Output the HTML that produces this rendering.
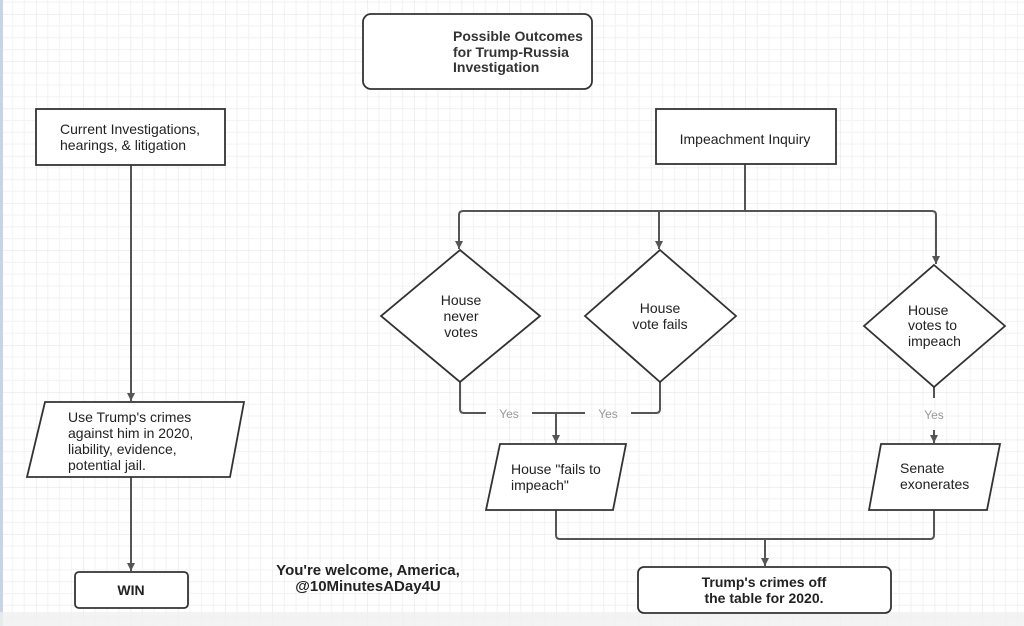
<!DOCTYPE html>
<html><head><meta charset="utf-8"><style>
html,body{margin:0;padding:0;background:#fff}
svg{display:block}
text{font-family:"Liberation Sans",Arial,sans-serif;fill:#222;font-size:14px}
.b{font-weight:bold}
.t{font-weight:bold;font-size:14px;fill:#333}
.y{fill:#999;font-size:12px}
</style></head><body>
<svg width="1024" height="626" viewBox="0 0 1024 626" xmlns="http://www.w3.org/2000/svg">
<defs>
<pattern id="g" x="36" y="14" width="47.3" height="47.3" patternUnits="userSpaceOnUse">
<path d="M11.8 0V47.3M23.6 0V47.3M35.5 0V47.3M0 11.8H47.3M0 23.6H47.3M0 35.5H47.3" stroke="#f2f2f2" stroke-width="1" fill="none"/>
<path d="M0 0V47.3M0 0H47.3" stroke="#e2e2e2" stroke-width="1" fill="none"/>
</pattern>
<marker id="a" markerWidth="8" markerHeight="8" refX="8" refY="4" orient="auto" markerUnits="userSpaceOnUse"><path d="M0,0 L8,4 L0,8 Z" fill="#555"/></marker>
</defs>
<rect width="1024" height="626" fill="url(#g)"/>
<rect x="0" y="0" width="3" height="626" fill="#c9d3e6"/>
<rect x="0" y="612" width="1024" height="14" fill="#f0f0f0" opacity="0.8"/>
<g stroke="#555" stroke-width="2" fill="none">
<line x1="131" y1="165" x2="131" y2="401" marker-end="url(#a)"/>
<line x1="131" y1="477" x2="131" y2="571" marker-end="url(#a)"/>
<path d="M745 164V211"/>
<path d="M459 249V215Q459 211 463 211H932Q936 211 936 215V264" />
<line x1="459" y1="240" x2="459" y2="249" marker-end="url(#a)"/>
<line x1="659" y1="211" x2="659" y2="249" marker-end="url(#a)"/>
<line x1="936" y1="255" x2="936" y2="264" marker-end="url(#a)"/>
<path d="M460 382V409Q460 413 464 413H486M532 413H585M631 413H656Q660 413 660 409V382"/>
<line x1="556" y1="413" x2="556" y2="443" marker-end="url(#a)"/>
<path d="M934 387V398M934 430V443"/>
<line x1="934" y1="435" x2="934" y2="443" marker-end="url(#a)"/>
<path d="M556 510V535Q556 539 560 539H930Q934 539 934 535V510"/>
<line x1="765" y1="539" x2="765" y2="566" marker-end="url(#a)"/>
</g>
<g stroke="#333" stroke-width="1.8" fill="#fff">
<rect x="363" y="14" width="229" height="75" rx="8"/>
<rect x="36" y="109" width="189" height="56"/>
<rect x="656" y="109" width="180" height="55"/>
<polygon points="45,402 244,402 230,477 27,477"/>
<rect x="75" y="572" width="113" height="36" rx="4"/>
<polygon points="460,250 540,316 460,382 381,316"/>
<polygon points="660,250 736,316 660,382 585,316"/>
<polygon points="934,265 1005,326 934,387 864,326"/>
<polygon points="500,444 626,444 613,510 486,510"/>
<polygon points="881,444 1000,444 987,510 869,510"/>
<rect x="638" y="567" width="253" height="46" rx="6"/>
</g>
<text class="t" x="453" y="41">Possible Outcomes</text>
<text class="t" x="453" y="57">for Trump-Russia</text>
<text class="t" x="453" y="72">Investigation</text>
<text x="60" y="134">Current Investigations,</text>
<text x="60" y="150">hearings, &amp; litigation</text>
<text x="745" y="144" text-anchor="middle">Impeachment Inquiry</text>
<text x="68" y="422">Use Trump's crimes</text>
<text x="68" y="438">against him in 2020,</text>
<text x="68" y="454">liability, evidence,</text>
<text x="68" y="470">potential jail.</text>
<text class="b" x="131" y="595" text-anchor="middle">WIN</text>
<text x="461" y="305" text-anchor="middle">House</text>
<text x="461" y="321" text-anchor="middle">never</text>
<text x="461" y="337" text-anchor="middle">votes</text>
<text x="660" y="313" text-anchor="middle">House</text>
<text x="660" y="329" text-anchor="middle">vote fails</text>
<text x="908" y="315">House</text>
<text x="908" y="330">votes to</text>
<text x="908" y="346">impeach</text>
<text class="y" x="509" y="418" text-anchor="middle">Yes</text>
<text class="y" x="608" y="418" text-anchor="middle">Yes</text>
<text class="y" x="934" y="419" text-anchor="middle">Yes</text>
<text x="511" y="474">House "fails to</text>
<text x="511" y="490">impeach"</text>
<text x="900" y="473">Senate</text>
<text x="900" y="489">exonerates</text>
<text class="b" x="764" y="587" text-anchor="middle">Trump's crimes off</text>
<text class="b" x="764" y="603" text-anchor="middle">the table for 2020.</text>
<text class="b" x="368" y="575" text-anchor="middle" style="font-size:15px">You're welcome, America,</text>
<text class="b" x="368" y="591" text-anchor="middle" style="font-size:15px">@10MinutesADay4U</text>
</svg>
</body></html>
